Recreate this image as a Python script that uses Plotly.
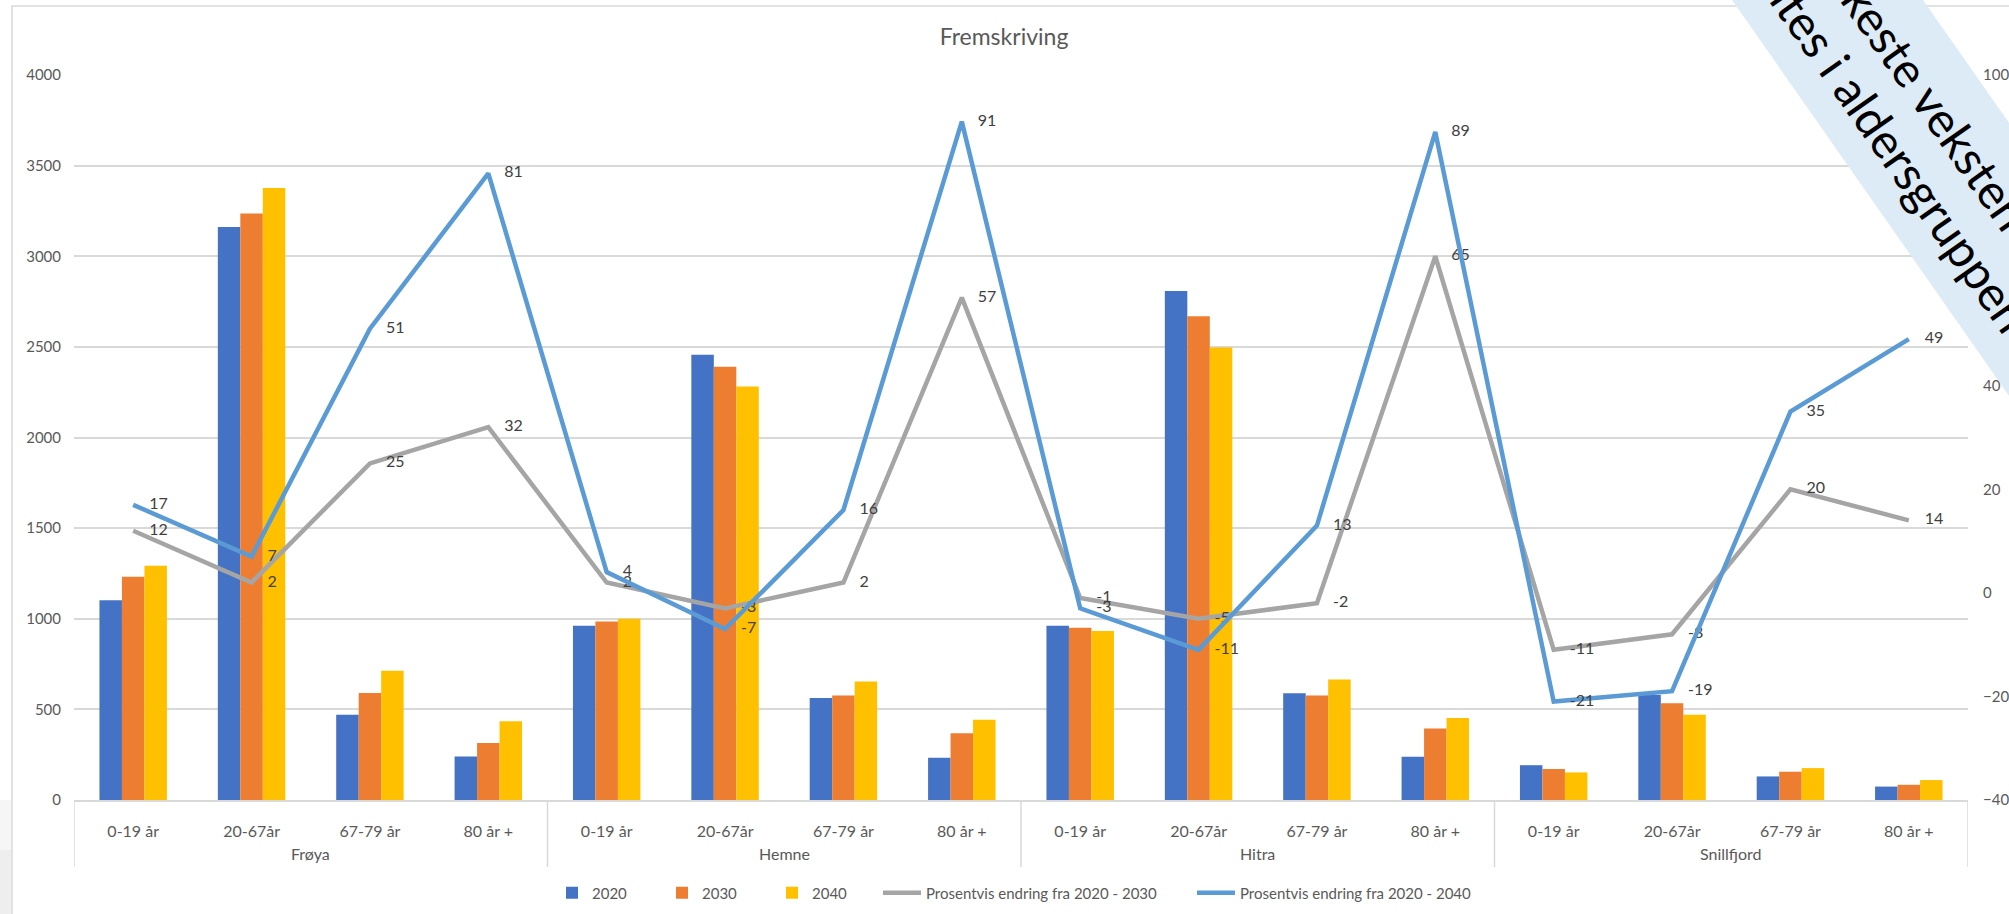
import plotly.graph_objects as go

# Canvas and plot-area geometry (pixels)
W, H = 2009, 914
ML, MR, MT, MB = 74, 41, 75, 114

# Data
kommuner = ["Frøya", "Hemne", "Hitra", "Snillfjord"]
aldersgrupper = ["0-19 år", "20-67år", "67-79 år", "80 år +"]

bef_2020 = [1102, 3162, 470, 240, 962, 2457, 563, 233, 962, 2808, 589, 239, 192, 580, 130, 74]
bef_2030 = [1232, 3236, 590, 315, 985, 2390, 576, 368, 950, 2669, 576, 394, 171, 534, 156, 84]
bef_2040 = [1293, 3377, 713, 435, 1000, 2282, 654, 443, 932, 2496, 665, 452, 152, 470, 176, 110]

endring_2030 = [12, 2, 25, 32, 2, -3, 2, 57, -1, -5, -2, 65, -11, -8, 20, 14]
endring_2040 = [17, 7, 51, 81, 4, -7, 16, 91, -3, -11, 13, 89, -21, -19, 35, 49]

serie_navn = ["2020", "2030", "2040"]
linje_navn = ["Prosentvis endring fra 2020 - 2030", "Prosentvis endring fra 2020 - 2040"]

venstre_ticks = list(range(0, 4001, 500))
hoyre_ticks = list(range(-40, 101, 20))

bar_farger = ["#4472C4", "#ED7D31", "#FFC000"]
linje_farger = ["#A5A5A5", "#5B9BD5"]
TEKST = "#595959"
GRID = "#D9D9D9"
FONT = "Lato, 'Open Sans', sans-serif"

# Two-level category axis: one slot per (kommune, aldersgruppe)
n_grp = len(aldersgrupper)
x_pos = list(range(len(kommuner) * n_grp))
x_tekst = [a for _ in kommuner for a in aldersgrupper]


def px_x(p):
    return (p - ML) / (W - ML - MR)


def px_y(p):
    return (H - MB - p) / (H - MT - MB)


fig = go.Figure()

for navn, verdier, farge in zip(serie_navn, [bef_2020, bef_2030, bef_2040], bar_farger):
    fig.add_trace(go.Bar(
        x=x_pos, y=verdier, name=navn,
        marker=dict(color=farge, line=dict(width=0)),
        yaxis="y", legend="legend",
    ))

for navn, verdier, farge in zip(linje_navn, [endring_2030, endring_2040], linje_farger):
    fig.add_trace(go.Scatter(
        x=x_pos, y=verdier, name=navn, yaxis="y2", legend="legend2",
        mode="lines+text",
        line=dict(color=farge, width=4.5),
        text=["\u2002\u2002" + str(v) for v in verdier],
        textposition="middle right",
        textfont=dict(family=FONT, size=16, color="#404040"),
        cliponaxis=False,
    ))

shapes = [
    # soft slide shading at the lower left corner
    dict(type="rect", xref="paper", yref="paper",
         x0=px_x(0), x1=px_x(11), y0=px_y(914), y1=px_y(850),
         fillcolor="#EEEEEE", line=dict(width=0), layer="below"),
    dict(type="rect", xref="paper", yref="paper",
         x0=px_x(0), x1=px_x(11), y0=px_y(850), y1=px_y(800),
         fillcolor="#F6F6F6", line=dict(width=0), layer="below"),
    # chart border
    dict(type="rect", xref="paper", yref="paper",
         x0=px_x(12), x1=px_x(2200), y0=px_y(1100), y1=px_y(6),
         line=dict(color=GRID, width=1.5), fillcolor="rgba(0,0,0,0)", layer="below"),
]

# group dividers below the category axis
for i in range(len(kommuner) + 1):
    grense = i * n_grp - 0.5
    shapes.append(dict(type="line", xref="x", yref="paper",
                       x0=grense, x1=grense, y0=0, y1=px_y(867),
                       line=dict(color=GRID, width=1.5), layer="below"))

# Callout band crossing the upper right corner
ang_dx = 0.7
band = [(1732 - ang_dx * 300, -300), (1923 - ang_dx * 300, -300),
        (1923 + ang_dx * 900, 900), (1732 + ang_dx * 900, 900)]
path = "M " + " L ".join(f"{px_x(x):.5f},{px_y(y):.5f}" for x, y in band) + " Z"
shapes.append(dict(type="path", xref="paper", yref="paper", path=path,
                   fillcolor="#DDEBF7", line=dict(width=0), layer="above"))

annotations = [
    dict(text="Den sterkeste veksten i", xref="paper", yref="paper",
         x=px_x(1724), y=px_y(-178), xanchor="left", yanchor="top",
         textangle=55, showarrow=False,
         font=dict(family=FONT, size=48, color="#000000")),
    dict(text="forventes i aldersgruppen over 80 år", xref="paper", yref="paper",
         x=px_x(1685), y=px_y(-132), xanchor="left", yanchor="top",
         textangle=55, showarrow=False,
         font=dict(family=FONT, size=48, color="#000000")),
]

# kommune labels under the age groups
for i, k in enumerate(kommuner):
    annotations.append(dict(text=k, xref="x", yref="paper",
                            x=i * n_grp + (n_grp - 1) / 2, y=px_y(854),
                            xanchor="center", yanchor="middle", showarrow=False,
                            font=dict(family=FONT, size=16, color=TEKST)))

legend_felles = dict(orientation="h", yanchor="middle", y=px_y(893),
                     xanchor="left", bgcolor="rgba(0,0,0,0)",
                     font=dict(family=FONT, size=15, color=TEKST),
                     entrywidthmode="pixels", tracegroupgap=0)

fig.update_layout(
    width=W, height=H,
    margin=dict(l=ML, r=MR, t=MT, b=MB, autoexpand=False),
    paper_bgcolor="white", plot_bgcolor="white",
    font=dict(family=FONT, size=15, color=TEKST),
    title=dict(text="Fremskriving", x=1004 / W, xanchor="center",
               y=1 - 37 / H, yanchor="middle",
               font=dict(family=FONT, size=23, color=TEKST)),
    barmode="group", bargap=0.43, bargroupgap=0,
    showlegend=True,
    legend=dict(legend_felles, x=px_x(552), entrywidth=65, itemwidth=30),
    legend2=dict(legend_felles, x=px_x(878), entrywidth=261, itemwidth=38),
    xaxis=dict(
        range=[-0.5, len(x_pos) - 0.5],
        tickvals=x_pos, ticktext=x_tekst,
        showline=True, linecolor=GRID, linewidth=1.5,
        showgrid=False, zeroline=False, ticks="",
        ticklabelstandoff=16,
        tickfont=dict(family=FONT, size=16, color=TEKST),
    ),
    yaxis=dict(
        range=[0, 4000], tickvals=venstre_ticks,
        showgrid=True, gridcolor=GRID, gridwidth=1.5,
        zeroline=False, showline=False, ticks="",
        ticklabelstandoff=12,
        tickfont=dict(family=FONT, size=15, color=TEKST),
    ),
    yaxis2=dict(
        range=[-40, 100], tickvals=hoyre_ticks,
        overlaying="y", side="right",
        showgrid=False, zeroline=False, showline=False, ticks="",
        ticklabelstandoff=14,
        tickfont=dict(family=FONT, size=15, color=TEKST),
    ),
    shapes=shapes,
    annotations=annotations,
)

fig.write_html("out.html")
